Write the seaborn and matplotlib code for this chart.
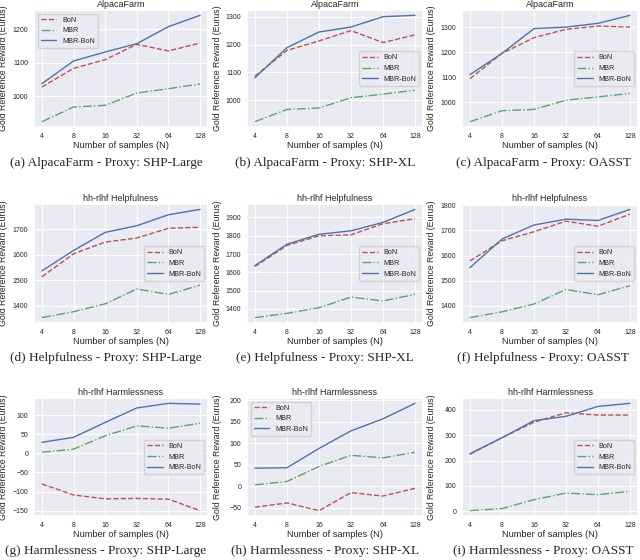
import matplotlib
matplotlib.use("Agg")
import matplotlib.pyplot as plt
import seaborn as sns
from matplotlib.ticker import MultipleLocator

sns.set_theme(style="darkgrid")
plt.rcParams['font.family'] = ['Liberation Sans', 'DejaVu Sans']

samples = [4, 8, 16, 32, 64, 128]
sample_labels = ["4", "8", "16", "32", "64", "128"]

# MBR does not depend on the proxy model
mbr_alpaca = [923, 967, 972, 1009, 1022, 1036]
mbr_help = [1353, 1376, 1407, 1465, 1444, 1480]
mbr_harm = [3, 11, 46, 72, 66, 79]

# AlpacaFarm
bon_a = [1027, 1083, 1109, 1155, 1135, 1159]
mbrbon_a = [1037, 1105, 1132, 1157, 1208, 1242]
bon_b = [1087, 1179, 1213, 1250, 1207, 1235]
mbrbon_b = [1081, 1189, 1245, 1263, 1300, 1305]
bon_c = [1095, 1196, 1259, 1292, 1305, 1301]
mbrbon_c = [1111, 1196, 1295, 1301, 1316, 1348]

# hh-rlhf Helpfulness
bon_d = [1513, 1603, 1649, 1665, 1703, 1707]
mbrbon_d = [1536, 1616, 1687, 1713, 1756, 1777]
bon_e = [1632, 1747, 1800, 1805, 1866, 1893]
mbrbon_e = [1637, 1754, 1808, 1827, 1873, 1944]
bon_f = [1579, 1659, 1695, 1737, 1717, 1765]
mbrbon_f = [1552, 1666, 1722, 1745, 1740, 1784]

# hh-rlhf Harmlessness
bon_g = [-80, -109, -119, -118, -120, -150]
mbrbon_g = [29, 42, 81, 119, 131, 129]
bon_h = [-49, -39, -57, -15, -23, -5]
mbrbon_h = [42, 43, 88, 129, 157, 193]
bon_i = [225, 290, 351, 388, 379, 379]
mbrbon_i = [227, 290, 357, 374, 413, 425]

panels = [
    ("AlpacaFarm", bon_a, mbr_alpaca, mbrbon_a, "upper left", 100, "(a) AlpacaFarm - Proxy: SHP-Large"),
    ("AlpacaFarm", bon_b, mbr_alpaca, mbrbon_b, "center right", 100, "(b) AlpacaFarm - Proxy: SHP-XL"),
    ("AlpacaFarm", bon_c, mbr_alpaca, mbrbon_c, "center right", 100, "(c) AlpacaFarm - Proxy: OASST"),
    ("hh-rlhf Helpfulness", bon_d, mbr_help, mbrbon_d, "center right", 100, "(d) Helpfulness - Proxy: SHP-Large"),
    ("hh-rlhf Helpfulness", bon_e, mbr_help, mbrbon_e, "center right", 100, "(e) Helpfulness - Proxy: SHP-XL"),
    ("hh-rlhf Helpfulness", bon_f, mbr_help, mbrbon_f, "center right", 100, "(f) Helpfulness - Proxy: OASST"),
    ("hh-rlhf Harmlessness", bon_g, mbr_harm, mbrbon_g, "center right", 50, "(g) Harmlessness - Proxy: SHP-Large"),
    ("hh-rlhf Harmlessness", bon_h, mbr_harm, mbrbon_h, "upper left", 50, "(h) Harmlessness - Proxy: SHP-XL"),
    ("hh-rlhf Harmlessness", bon_i, mbr_harm, mbrbon_i, "center right", 100, "(i) Harmlessness - Proxy: OASST"),
]

W, H = 640, 560
col_x = [(34, 208), (247, 423), (462, 638)]
row_y = [(10, 127), (204, 323), (398, 516)]
ylabel_x = [8, 222, 436]
caption_y = [163, 358, 551]
caption_x = [106, 325, 543]

fig = plt.figure(figsize=(6.4, 5.6), dpi=100)

for i, (title, bon, mbr, mbrbon, loc, step, caption) in enumerate(panels):
    r, c = divmod(i, 3)
    x0, x1 = col_x[c]
    y0, y1 = row_y[r]
    ax = fig.add_axes([x0 / W, 1 - y1 / H, (x1 - x0) / W, (y1 - y0) / H])

    sns.lineplot(x=samples, y=bon, color="r", linestyle="--", linewidth=1.0, label="BoN", ax=ax)
    sns.lineplot(x=samples, y=mbr, color="g", linestyle="-.", linewidth=1.0, label="MBR", ax=ax)
    sns.lineplot(x=samples, y=mbrbon, color="b", linestyle="-", linewidth=1.0, label="MBR-BoN", ax=ax)

    ax.set_xscale("log", base=2)
    ax.set_xticks(samples, labels=sample_labels)
    ax.minorticks_off()
    ax.yaxis.set_major_locator(MultipleLocator(step))
    ax.tick_params(labelsize=5, length=0, pad=4)
    ax.grid(linewidth=0.8)
    ax.set_title(title, fontsize=6.5, pad=2)
    ax.set_xlabel("Number of samples (N)", fontsize=6.7, labelpad=1)
    ax.set_ylabel("Gold Reference Reward (Eurus)", fontsize=6.3)
    # keep the y label inside the left edge of its column
    ax.yaxis.set_label_coords(-(x0 - ylabel_x[c]) / (x1 - x0), 0.5)
    ax.legend(loc=loc, fontsize=5.2, handlelength=2.2)

    fig.text(caption_x[c] / W, 1 - caption_y[r] / H, caption,
             ha="center", va="center", fontsize=9.5, family="Liberation Serif")

fig.savefig("out.png", dpi=100)
